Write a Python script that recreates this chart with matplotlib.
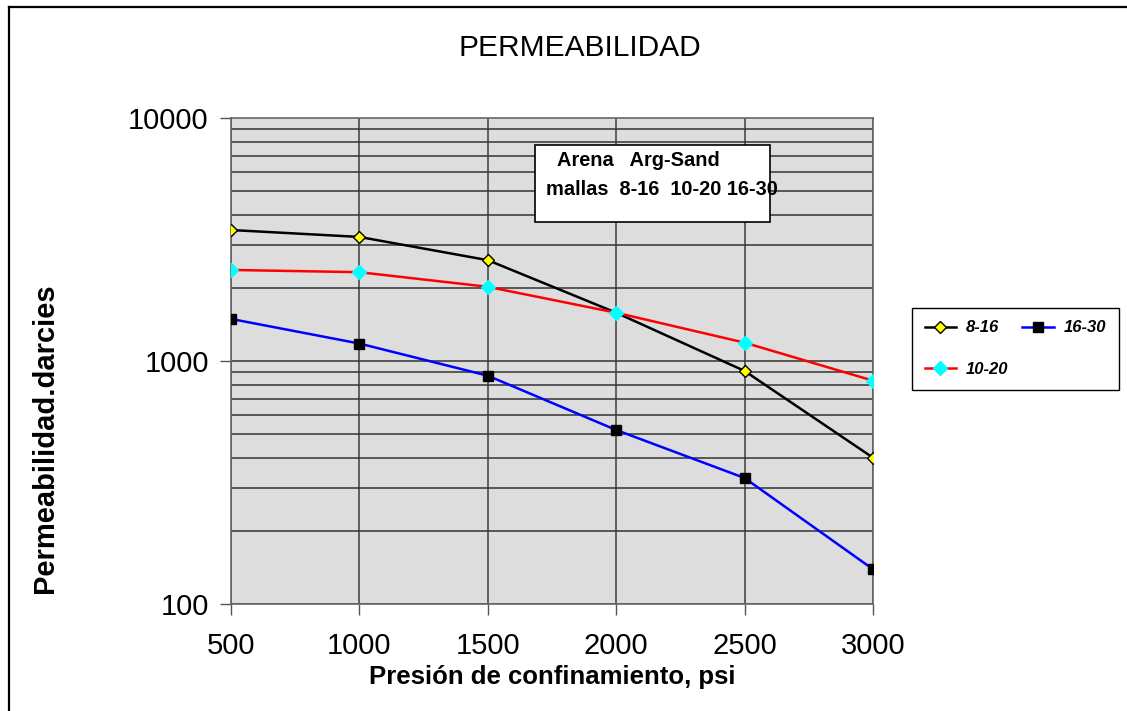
import matplotlib.pyplot as plt
import numpy as np
from matplotlib.lines import Line2D
from matplotlib.patches import Rectangle

plt.rcParams['font.family'] = ['Liberation Sans', 'DejaVu Sans']

# presion de confinamiento (psi)
presion = [500, 1000, 1500, 2000, 2500, 3000]

# permeabilidad (darcies) por malla
perm_8_16 = [3460, 3240, 2600, 1580, 910, 400]
perm_10_20 = [2370, 2320, 2020, 1580, 1190, 830]
perm_16_30 = [1490, 1180, 870, 520, 330, 139]

x_ticks = [500, 1000, 1500, 2000, 2500, 3000]
y_ticks = [100, 1000, 10000]

W, H = 1127, 711
fig = plt.figure(figsize=(W / 100, H / 100), dpi=100)

# outer chart border (only top and left visible in the reference)
fig.add_artist(Line2D([9 / W, 9 / W], [0, 1 - 7 / H], color='black', lw=1.6,
                      transform=fig.transFigure))
fig.add_artist(Line2D([9 / W, 1], [1 - 7 / H, 1 - 7 / H], color='black', lw=1.6,
                      transform=fig.transFigure))

ax = fig.add_axes([231 / W, 1 - 604 / H, (873 - 231) / W, (604 - 118) / H])
ax.set_facecolor('#dddddd')
ax.set_yscale('log')
ax.set_xlim(500, 3000)
ax.set_ylim(100, 10000)

# grid lines
for xv in x_ticks:
    ax.axvline(xv, color='#555555', lw=1.3, zorder=1)
for dec in [100, 1000]:
    for m in range(1, 10):
        ax.axhline(dec * m, color='#333333', lw=1.1, zorder=1)

ax.plot(presion, perm_8_16, color='black', lw=1.8, marker='D', ms=6,
        mfc='yellow', mec='black', mew=1.0, label='8-16', zorder=3)
ax.plot(presion, perm_10_20, color='red', lw=1.8, marker='D', ms=7,
        mfc='cyan', mec='cyan', label='10-20', zorder=3)
ax.plot(presion, perm_16_30, color='blue', lw=1.8, marker='s', ms=7,
        mfc='black', mec='black', label='16-30', zorder=3)

ax.set_xticks(x_ticks)
ax.set_xticklabels([str(v) for v in x_ticks])
ax.set_yticks(y_ticks)
ax.set_yticklabels([str(v) for v in y_ticks])
ax.yaxis.set_minor_locator(plt.NullLocator())
ax.tick_params(axis='both', labelsize=21, length=8, width=1, color='#555555',
               direction='out')
ax.tick_params(axis='x', pad=12)
ax.tick_params(axis='y', pad=8)
for s in ax.spines.values():
    s.set_color('#666666')
    s.set_linewidth(1.2)

ax.set_xlabel('Presión de confinamiento, psi', fontsize=18.5, fontweight='bold',
              labelpad=4)
fig.text(45 / W, 1 - 438 / H, 'Permeabilidad.darcies', rotation=90,
         fontsize=21, fontweight='bold', ha='center', va='center')
fig.text(580 / W, 1 - 48 / H, 'PERMEABILIDAD', fontsize=21.5, ha='center',
         va='center')

# note box
fig.add_artist(Rectangle((535 / W, 1 - 222 / H), (770 - 535) / W, (222 - 145) / H,
                         transform=fig.transFigure, facecolor='white',
                         edgecolor='black', lw=1.2, zorder=5))
fig.text(557 / W, 1 - 160 / H, 'Arena   Arg-Sand', fontsize=14.4, fontweight='bold',
         ha='left', va='center', zorder=6)
fig.text(546 / W, 1 - 190 / H, 'mallas  8-16  10-20 16-30', fontsize=14.4,
         fontweight='bold', ha='left', va='center', zorder=6)

leg = ax.legend(loc='upper left', bbox_to_anchor=(912 / W, 1 - 308 / H),
                bbox_transform=fig.transFigure, ncol=2, fancybox=False,
                edgecolor='black', framealpha=1,
                prop={'weight': 'bold', 'style': 'italic', 'size': 12},
                labelspacing=1.6, columnspacing=0.8, handlelength=1.9,
                handletextpad=0.6, borderpad=0.75, borderaxespad=0)
leg.get_frame().set_linewidth(1.0)

fig.savefig('out.png', dpi=100)
